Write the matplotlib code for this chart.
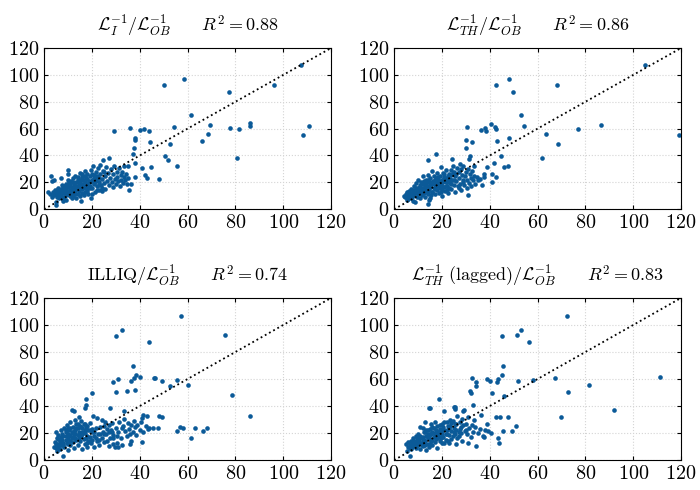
import numpy as np
import matplotlib
matplotlib.use("Agg")
import matplotlib.pyplot as plt

plt.rcParams['mathtext.fontset'] = 'cm'
plt.rcParams['font.family'] = 'serif'
plt.rcParams['font.serif'] = ['cmr10', 'DejaVu Serif']
plt.rcParams['axes.formatter.use_mathtext'] = True

# panel 1: L_I^-1 vs L_OB^-1
x1 = [107.5, 50.2, 58.7, 77.2, 96.2, 61.3, 54.4, 29.3, 35.8, 40.1,
      41.8, 43.9, 69.4, 68.4, 65.9, 77.8, 81.5, 86.0, 86.0, 108.2,
      110.8, 80.6, 44.3, 52.7, 50.4, 51.7, 55.5, 44.6, 40.8, 48.1,
      42.2, 43.2, 38.0, 38.2, 37.6, 37.1, 37.9, 38.0, 35.0, 35.7,
      36.4,
      1.5, 2.5, 3.0, 3.2, 3.6, 4.0, 4.2, 4.5, 4.8, 5.0,
      5.2, 5.5, 5.8, 6.0, 6.2, 6.5, 6.8, 7.0, 7.2, 7.5,
      7.8, 8.0, 8.2, 8.5, 8.8, 9.0, 9.2, 9.5, 9.8, 10.0,
      10.2, 10.5, 10.8, 11.0, 11.2, 11.5, 11.8, 12.0, 12.2, 12.5,
      12.8, 13.0, 13.2, 13.5, 13.8, 14.0, 14.2, 14.5, 14.8, 15.0,
      15.2, 15.5, 15.8, 16.0, 16.2, 16.5, 16.8, 17.0, 17.2, 17.5,
      17.8, 18.0, 18.2, 18.5, 18.8, 19.0, 19.2, 19.5, 19.8, 20.0,
      20.2, 20.5, 20.8, 21.0, 21.2, 21.5, 21.8, 22.0, 22.2, 22.5,
      22.8, 23.0, 23.2, 23.5, 23.8, 24.0, 24.2, 24.5, 24.8, 25.0,
      25.3, 25.6, 26.0, 26.3, 26.6, 27.0, 27.3, 27.6, 28.0, 28.3,
      28.6, 29.0, 29.3, 29.6, 30.0, 30.3, 30.6, 31.0, 31.3, 31.6,
      32.0, 32.3, 32.6, 33.0, 33.3, 33.6, 34.0, 34.3, 34.6, 35.0,
      3.5, 4.5, 5.5, 6.5, 7.5, 8.5, 9.5, 10.5, 11.5, 12.5,
      6.0, 7.0, 8.0, 9.0, 10.0, 11.0, 12.0, 13.0, 14.0, 15.0,
      16.0, 17.0, 18.0, 19.0, 20.0, 21.0, 22.0, 23.0, 24.0, 25.0,
      9.0, 10.0, 11.0, 12.0, 13.0, 14.0, 15.0, 16.0, 17.0, 18.0,
      4.0, 5.0, 6.0, 7.0, 8.0, 9.0, 10.0, 11.0, 12.0, 13.0,
      14.0, 15.0, 16.0, 17.0, 18.0, 19.0, 20.0, 21.0, 22.0, 23.0]
y1 = [107.1, 92.7, 96.7, 87.3, 92.2, 70.4, 61.0, 58.3, 60.5, 58.8,
      59.5, 58.3, 62.5, 56.0, 50.6, 60.3, 59.5, 64.0, 61.7, 55.0,
      62.0, 38.2, 50.3, 48.6, 39.4, 37.0, 32.5, 31.5, 31.0, 22.3,
      25.8, 23.6, 53.0, 51.8, 45.6, 41.4, 34.7, 24.0, 32.2, 14.1,
      19.1,
      12.5, 11.0, 25.0, 21.0, 13.0, 10.5, 22.0, 12.0, 3.0, 5.5,
      14.0, 9.0, 12.0, 16.0, 8.0, 11.0, 13.5, 23.0, 10.0, 18.0,
      6.0, 15.0, 9.0, 12.0, 14.5, 7.0, 19.0, 11.0, 16.5, 29.5,
      26.0, 13.0, 9.5, 17.5, 21.0, 12.0, 15.0, 23.0, 10.0, 18.5,
      14.0, 25.0, 8.0, 20.5, 16.0, 11.5, 22.5, 18.0, 13.5, 27.0,
      19.5, 6.0, 24.0, 15.0, 21.5, 10.5, 17.0, 28.5, 13.0, 23.0,
      19.0, 26.5, 15.5, 11.0, 21.0, 24.5, 17.5, 29.0, 8.0, 22.0,
      16.0, 32.0, 19.5, 25.5, 13.0, 21.0, 28.0, 17.5, 23.5, 30.5,
      14.5, 20.0, 26.0, 33.0, 18.0, 22.5, 16.0, 28.5, 37.0, 19.5,
      24.5, 15.0, 31.5, 21.0, 27.0, 38.5, 18.0, 23.5, 30.0, 20.0,
      26.0, 16.5, 32.5, 22.5, 19.0, 28.0, 24.0, 21.0, 30.5, 17.0,
      25.5, 22.0, 27.5, 19.5, 24.0, 32.0, 21.5, 26.5, 18.5, 23.0,
      9.0, 14.5, 11.5, 13.0, 8.5, 17.0, 13.5, 20.0, 8.5, 15.5,
      10.0, 15.0, 12.5, 10.5, 18.0, 14.0, 12.5, 17.5, 20.0, 16.5,
      19.0, 15.5, 22.5, 20.5, 11.5, 18.5, 25.0, 23.5, 13.5, 27.5,
      16.0, 11.5, 19.0, 16.5, 11.0, 24.0, 9.5, 26.0, 20.5, 17.5,
      11.5, 13.0, 14.0, 11.5, 17.5, 13.0, 22.0, 10.5, 20.0, 13.5,
      17.0, 22.0, 12.0, 24.5, 13.5, 16.0, 26.0, 23.0, 14.0, 18.0]

# panel 2: L_TH^-1 vs L_OB^-1
x2 = [104.7, 48.1, 42.6, 49.6, 68.0, 53.0, 54.5, 30.4, 36.2, 37.8,
      38.5, 40.7, 42.2, 42.5, 30.0, 32.5, 42.9, 48.2, 30.0, 17.6,
      14.2, 31.8, 31.4, 44.7, 27.6, 24.3, 38.7, 41.8, 46.1, 47.8,
      62.0, 63.4, 68.6, 76.8, 86.5, 119.3, 37.4, 37.4, 36.9, 40.8,
      41.1, 42.5, 31.1, 14.1, 14.8,
      4.0, 4.5, 5.0, 5.2, 5.5, 5.8, 6.0, 6.2, 6.5, 6.8,
      7.0, 7.2, 7.5, 7.8, 8.0, 8.2, 8.5, 8.8, 9.0, 9.2,
      9.5, 9.8, 10.0, 10.2, 10.5, 10.8, 11.0, 11.2, 11.5, 11.8,
      12.0, 12.2, 12.5, 12.8, 13.0, 13.2, 13.5, 13.8, 14.0, 14.2,
      14.5, 14.8, 15.0, 15.2, 15.5, 15.8, 16.0, 16.2, 16.5, 16.8,
      17.0, 17.2, 17.5, 17.8, 18.0, 18.2, 18.5, 18.8, 19.0, 19.2,
      19.5, 19.8, 20.0, 20.2, 20.5, 20.8, 21.0, 21.2, 21.5, 21.8,
      22.0, 22.3, 22.6, 23.0, 23.3, 23.6, 24.0, 24.3, 24.6, 25.0,
      25.3, 25.6, 26.0, 26.3, 26.6, 27.0, 27.3, 27.6, 28.0, 28.3,
      28.6, 29.0, 29.3, 29.6, 30.0, 30.3, 30.6, 31.0, 31.3, 31.6,
      32.0, 32.3, 32.6, 33.0, 33.3, 33.6, 34.0, 34.5, 35.0, 36.0,
      5.5, 6.5, 7.5, 8.5, 9.5, 10.5, 11.5, 12.5, 13.5, 14.5,
      15.5, 16.5, 17.5, 18.5, 19.5, 20.5, 21.5, 22.5, 23.5, 24.5,
      10.0, 11.0, 12.0, 13.0, 14.0, 15.0, 16.0, 17.0, 18.0, 19.0,
      20.0, 21.0, 22.0, 23.0, 24.0, 25.0, 26.0, 27.0, 28.0, 29.0,
      6.0, 7.0, 8.0, 9.0, 10.0, 11.0, 12.0, 13.0, 14.0, 15.0,
      16.0, 17.0, 18.0, 19.0, 20.0, 21.0, 22.0, 23.0, 24.0, 25.0]
y2 = [107.1, 96.7, 92.7, 87.3, 92.2, 70.4, 61.7, 61.5, 58.8, 60.5,
      58.5, 63.7, 61.2, 59.5, 51.3, 50.1, 50.6, 52.8, 45.6, 41.2,
      37.0, 39.4, 37.7, 39.7, 34.0, 37.4, 31.5, 34.7, 31.5, 32.2,
      38.2, 56.3, 48.8, 59.8, 62.5, 55.0, 26.0, 24.0, 17.9, 26.5,
      20.3, 24.0, 10.4, 3.7, 7.2,
      10.0, 9.0, 11.5, 8.0, 12.5, 10.0, 7.5, 13.5, 9.5, 11.0,
      15.0, 8.5, 12.0, 6.0, 14.0, 10.5, 17.0, 5.5, 12.5, 19.5,
      9.0, 15.5, 22.0, 11.5, 13.0, 18.0, 8.5, 20.0, 14.5, 10.5,
      24.5, 16.0, 12.0, 19.0, 9.0, 22.0, 14.0, 17.5, 25.5, 11.0,
      20.5, 15.0, 23.0, 8.0, 18.5, 13.0, 28.5, 21.0, 16.0, 25.0,
      11.5, 19.0, 23.5, 14.5, 27.0, 17.0, 21.5, 12.0, 25.0, 15.5,
      31.5, 19.0, 22.0, 10.0, 27.0, 16.5, 24.0, 13.5, 20.0, 29.0,
      17.0, 23.5, 12.0, 26.5, 19.5, 29.5, 15.0, 22.0, 32.5, 18.0,
      25.0, 13.0, 21.0, 30.5, 17.0, 23.5, 27.5, 19.0, 14.5, 25.5,
      21.5, 32.0, 18.0, 24.5, 28.0, 15.5, 22.0, 30.0, 19.5, 26.0,
      23.5, 17.0, 28.5, 21.5, 25.0, 32.5, 19.0, 24.0, 22.0, 22.5,
      6.5, 11.5, 10.0, 12.0, 14.0, 16.0, 12.5, 21.0, 19.5, 17.0,
      10.5, 20.0, 17.5, 24.0, 13.0, 20.5, 17.5, 25.0, 22.5, 27.0,
      12.0, 16.5, 14.0, 16.5, 13.5, 20.0, 12.5, 22.0, 19.5, 21.0,
      14.0, 22.5, 20.0, 16.0, 25.5, 21.5, 26.5, 16.0, 30.0, 20.0,
      9.0, 11.0, 9.5, 16.0, 14.5, 12.0, 18.5, 12.5, 21.5, 16.5,
      19.0, 15.0, 22.5, 18.0, 17.5, 26.0, 14.5, 21.0, 19.0, 27.5]

# panel 3: ILLIQ vs L_OB^-1
x3 = [57.1, 32.6, 30.0, 44.0, 75.7, 37.2, 78.7, 86.0, 38.3, 40.1,
      30.8, 28.9, 37.4, 36.2, 46.3, 46.0, 49.3, 55.6, 60.1, 52.7,
      30.0, 34.7, 38.0, 20.2, 17.6, 27.7, 33.4, 11.6, 12.5, 17.1,
      17.6, 55.5, 56.9, 58.0, 61.5, 63.1, 66.6, 68.0, 47.8, 48.2,
      49.2, 41.5, 42.9, 40.8, 41.1, 43.3, 36.0, 36.2, 45.7,
      4.0, 4.5, 5.0, 5.0, 5.5, 5.5, 6.0, 6.0, 6.5, 6.5,
      7.0, 7.0, 7.5, 7.5, 8.0, 8.0, 8.5, 8.5, 9.0, 9.0,
      9.5, 9.5, 10.0, 10.0, 10.5, 10.5, 11.0, 11.0, 11.5, 11.5,
      12.0, 12.0, 12.5, 12.5, 13.0, 13.0, 13.5, 13.5, 14.0, 14.0,
      14.5, 14.5, 15.0, 15.0, 15.5, 15.5, 16.0, 16.0, 16.5, 16.5,
      17.0, 17.0, 17.5, 17.5, 18.0, 18.0, 18.5, 18.5, 19.0, 19.0,
      19.5, 20.0, 20.0, 20.5, 21.0, 21.0, 21.5, 22.0, 22.0, 22.5,
      23.0, 23.5, 24.0, 24.5, 25.0, 25.5, 26.0, 26.5, 27.0, 27.5,
      28.0, 28.5, 29.0, 29.5, 30.0, 30.5, 31.0, 31.5, 32.0, 32.5,
      33.0, 33.5, 34.0, 34.5, 35.0, 35.5, 36.0, 36.5, 37.0, 37.5,
      38.0, 38.5, 39.0, 40.0, 40.5, 41.5, 42.5, 44.0, 20.0, 25.0,
      6.0, 7.0, 8.0, 9.0, 10.0, 11.0, 12.0, 13.0, 14.0, 15.0,
      16.0, 17.0, 18.0, 19.0, 12.5, 13.5, 14.5, 15.5, 11.0, 10.0,
      21.5, 23.5, 26.5, 28.5, 30.5, 32.5, 24.0, 27.0, 29.0, 31.0,
      5.0, 6.0, 7.0, 8.0, 9.0, 10.0, 11.0, 12.0, 13.0, 14.0,
      15.0, 16.0, 17.0, 18.0, 19.0, 21.0, 23.0, 25.0, 27.0, 29.0]
y3 = [106.8, 96.3, 91.6, 87.1, 92.4, 69.7, 48.0, 32.4, 63.2, 61.7,
      59.7, 57.8, 60.5, 58.5, 61.0, 60.5, 58.8, 59.0, 55.5, 54.5,
      50.3, 50.8, 52.0, 49.3, 45.1, 38.6, 36.6, 36.8, 36.1, 38.6,
      40.6, 21.2, 24.4, 23.6, 16.7, 24.1, 21.2, 23.6, 24.1, 32.4,
      31.6, 33.6, 32.9, 31.1, 13.2, 23.2, 12.0, 14.2, 23.6,
      10.0, 13.5, 9.0, 21.0, 7.0, 16.0, 12.0, 18.5, 14.0, 8.5,
      22.5, 11.0, 15.0, 19.0, 3.0, 13.0, 24.0, 9.5, 17.5, 20.5,
      12.5, 26.0, 15.5, 7.5, 22.0, 18.0, 11.0, 28.5, 16.0, 20.5,
      24.5, 13.5, 19.0, 9.0, 30.0, 22.0, 15.0, 26.5, 18.5, 11.5,
      32.0, 21.0, 25.5, 14.0, 29.0, 18.0, 23.5, 8.5, 27.0, 15.5,
      20.0, 12.0, 24.5, 16.5, 18.0, 10.0, 22.0, 14.0, 27.5, 17.0,
      12.5, 20.5, 15.0, 33.0, 18.0, 9.5, 23.5, 14.0, 31.0, 19.0,
      11.0, 24.5, 16.5, 21.0, 13.5, 28.0, 19.0, 23.0, 10.5, 16.0,
      22.0, 27.5, 18.5, 9.5, 24.0, 13.0, 20.5, 28.5, 16.5, 11.0,
      25.0, 30.5, 21.5, 17.5, 27.5, 23.0, 19.5, 26.0, 21.0, 29.0,
      24.5, 18.5, 26.0, 22.5, 28.0, 20.5, 25.5, 24.0, 23.0, 25.5,
      15.5, 13.0, 18.0, 15.0, 19.5, 14.5, 17.0, 19.0, 23.5, 20.0,
      21.0, 26.5, 13.0, 22.5, 21.0, 23.5, 16.5, 24.5, 24.0, 12.0,
      16.0, 19.0, 14.5, 21.0, 17.5, 23.5, 30.0, 26.0, 12.0, 10.0,
      12.0, 10.0, 17.0, 11.5, 22.0, 24.0, 18.5, 20.5, 16.0, 27.0,
      17.5, 19.0, 22.5, 25.0, 14.5, 21.0, 15.0, 19.0, 20.5, 16.0]

# panel 4: L_TH^-1 (lagged) vs L_OB^-1
x4 = [72.2, 53.0, 45.2, 51.3, 56.2, 45.6, 32.5, 34.3, 34.1, 38.7,
      40.1, 43.2, 43.6, 45.0, 51.6, 58.0, 67.2, 72.9, 81.5, 111.2,
      92.0, 69.7, 31.8, 32.1, 40.9, 45.9, 18.7, 15.1, 25.6, 25.6,
      29.3, 32.9, 36.2, 42.6, 44.3, 47.6, 50.9, 49.2, 45.4, 43.3,
      43.7, 37.4, 34.3, 6.7, 39.4, 40.4,
      5.0, 5.5, 6.0, 6.0, 6.5, 7.0, 7.0, 7.5, 8.0, 8.0,
      8.5, 9.0, 9.0, 9.5, 10.0, 10.0, 10.5, 11.0, 11.0, 11.5,
      12.0, 12.0, 12.5, 13.0, 13.0, 13.5, 14.0, 14.0, 14.5, 15.0,
      15.0, 15.5, 16.0, 16.0, 16.5, 17.0, 17.0, 17.5, 18.0, 18.0,
      18.5, 19.0, 19.0, 19.5, 20.0, 20.0, 20.5, 21.0, 21.0, 21.5,
      22.0, 22.5, 23.0, 23.5, 24.0, 24.5, 25.0, 25.5, 26.0, 26.5,
      27.0, 27.5, 28.0, 28.5, 29.0, 29.5, 30.0, 30.5, 31.0, 31.5,
      32.0, 32.5, 33.0, 33.5, 34.0, 35.0, 36.0, 37.0, 38.0, 39.0,
      9.5, 10.5, 11.5, 12.5, 13.5, 14.5, 15.5, 16.5, 17.5, 18.5,
      19.5, 20.5, 21.5, 22.5, 23.5, 24.5, 25.5, 26.5, 27.5, 28.5,
      12.0, 13.0, 14.0, 15.0, 16.0, 17.0, 18.0, 19.0, 20.0, 21.0,
      22.0, 23.0, 24.0, 25.0, 26.0, 27.0, 28.0, 29.0, 30.0, 31.0,
      6.5, 7.5, 8.5, 9.5, 10.5, 11.5, 12.5, 13.5, 14.5, 15.5,
      7.0, 8.0, 9.0, 10.0, 11.0, 12.0, 13.0, 14.0, 15.0, 16.0,
      17.0, 18.0, 19.0, 20.0, 21.0, 22.0, 23.0, 24.0, 25.0, 26.0]
y4 = [106.8, 96.3, 91.6, 92.4, 87.1, 69.7, 60.5, 57.8, 54.8, 59.7,
      58.8, 58.0, 59.7, 62.7, 58.3, 59.0, 61.0, 50.5, 55.5, 61.5,
      37.3, 31.6, 51.4, 49.3, 49.8, 47.6, 45.1, 38.6, 39.3, 37.8,
      36.8, 40.6, 33.1, 31.6, 32.1, 31.6, 24.9, 21.2, 21.2, 16.7,
      12.7, 16.9, 10.5, 3.0, 21.7, 19.7,
      12.0, 7.0, 10.0, 13.5, 11.5, 8.5, 14.5, 12.0, 10.5, 16.0,
      13.0, 9.0, 17.5, 14.0, 11.0, 19.0, 15.5, 8.5, 24.5, 13.0,
      17.0, 10.5, 21.0, 14.5, 28.0, 7.5, 19.5, 12.0, 38.5, 23.0,
      15.5, 26.5, 11.0, 20.5, 17.0, 28.0, 13.5, 22.0, 9.0, 25.5,
      18.5, 14.0, 23.0, 20.5, 12.5, 27.0, 17.0, 36.0, 22.5, 15.0,
      19.5, 25.0, 13.0, 30.0, 21.5, 17.5, 39.0, 26.5, 22.0, 32.5,
      18.0, 28.0, 24.5, 14.5, 36.5, 21.5, 27.0, 19.0, 32.0, 23.5,
      17.0, 26.0, 21.0, 29.5, 24.5, 20.0, 23.0, 17.5, 22.0, 26.5,
      11.5, 12.5, 16.5, 13.5, 17.5, 9.5, 19.0, 24.0, 15.5, 21.0,
      16.0, 24.5, 19.0, 14.0, 25.5, 29.0, 19.5, 16.0, 23.0, 30.5,
      14.0, 20.5, 16.0, 12.0, 15.0, 18.5, 21.0, 17.0, 19.5, 28.0,
      22.5, 18.5, 27.5, 23.5, 12.0, 21.0, 20.0, 26.0, 22.5, 12.5,
      9.0, 10.0, 14.5, 16.0, 13.5, 11.0, 15.0, 22.5, 18.0, 14.0,
      11.0, 12.5, 12.0, 16.5, 18.0, 23.5, 11.5, 22.0, 19.5, 24.5,
      20.0, 16.5, 26.0, 22.0, 13.0, 28.5, 24.0, 15.5, 20.5, 27.0]

titles = [r'$\mathcal{L}_I^{-1}/\mathcal{L}_{OB}^{-1}\qquad R^2 = 0.88$',
          r'$\mathcal{L}_{TH}^{-1}/\mathcal{L}_{OB}^{-1}\qquad R^2 = 0.86$',
          r'$\mathrm{ILLIQ}/\mathcal{L}_{OB}^{-1}\qquad R^2 = 0.74$',
          r'$\mathcal{L}_{TH}^{-1}\ \mathrm{(lagged)}/\mathcal{L}_{OB}^{-1}\qquad R^2 = 0.83$']
xs = [x1, x2, x3, x4]
ys = [y1, y2, y3, y4]
ticks = [0, 20, 40, 60, 80, 100, 120]

fig = plt.figure(figsize=(7, 4.9), dpi=100)
boxes = [[0.063, 0.573, 0.41, 0.329], [0.563, 0.573, 0.41, 0.329],
         [0.063, 0.061, 0.41, 0.331], [0.563, 0.061, 0.41, 0.331]]
for i in range(4):
    ax = fig.add_axes(boxes[i])
    ax.grid(True, color='#d4d4d4', linestyle=':', linewidth=0.8)
    ax.set_axisbelow(True)
    ax.axline((0, 0), slope=1, color='black', linestyle=':', linewidth=1.3, zorder=3)
    ax.scatter(xs[i], ys[i], s=11, color='#0b5a98', linewidths=0, zorder=2)
    ax.set_xlim(0, 120)
    ax.set_ylim(0, 120)
    ax.set_xticks(ticks)
    ax.set_yticks(ticks)
    ax.tick_params(direction='in', top=True, right=True, length=3, labelsize=14.5)
    ax.set_title(titles[i], fontsize=13, pad=12)

plt.savefig('out.png', dpi=100)
